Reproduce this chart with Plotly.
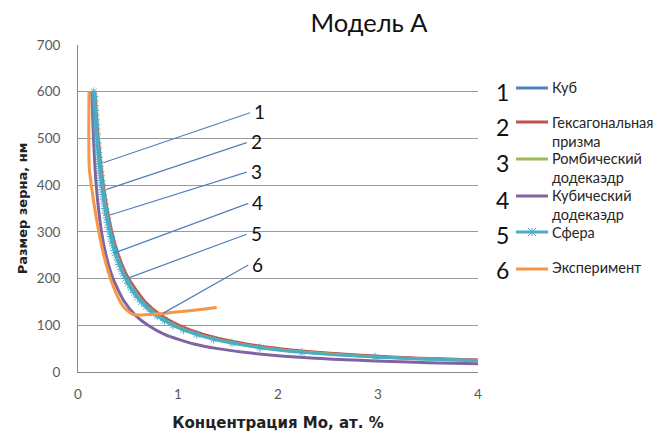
import plotly.graph_objects as go

# ---- data ----
cube_x = [0.163, 0.196, 0.245, 0.327, 0.392, 0.49, 0.653, 0.817, 0.98, 1.225, 1.633, 1.96, 2.45, 3.267, 4.9]
cube_y = [600, 500, 400, 300, 250, 200, 150, 120, 100, 80, 60, 50, 40, 30, 20]

hex_x = [0.168, 0.202, 0.253, 0.337, 0.404, 0.505, 0.673, 0.842, 1.01, 1.263, 1.683, 2.02, 2.525, 3.367, 5.05]
hex_y = [600, 500, 400, 300, 250, 200, 150, 120, 100, 80, 60, 50, 40, 30, 20]

rhomb_x = [0.161, 0.193, 0.241, 0.322, 0.386, 0.483, 0.643, 0.804, 0.965, 1.206, 1.608, 1.93, 2.413, 3.217, 4.825]
rhomb_y = [600, 500, 400, 300, 250, 200, 150, 120, 100, 80, 60, 50, 40, 30, 20]

cubdod_x = [0.137, 0.155, 0.182, 0.235, 0.28, 0.35, 0.465, 0.58, 0.70, 0.87, 1.16, 1.4, 1.75, 2.33, 3.5, 4.67]
cubdod_y = [600, 500, 400, 300, 250, 200, 150, 120, 100, 80, 60, 50, 40, 30, 20, 15]

sphere_x = [0.158, 0.161, 0.164, 0.167, 0.170, 0.173, 0.176, 0.179, 0.183, 0.186,
            0.190, 0.194, 0.198, 0.202, 0.207, 0.211, 0.216, 0.221, 0.226, 0.232,
            0.238, 0.244, 0.250, 0.257, 0.264, 0.271, 0.279, 0.288, 0.297, 0.306,
            0.317, 0.328, 0.339, 0.352, 0.365, 0.380, 0.396, 0.413, 0.432, 0.452,
            0.475, 0.500, 0.528, 0.559, 0.594, 0.633, 0.679, 0.731, 0.792, 0.864,
            0.950, 1.056, 1.188, 1.357, 1.54, 1.82, 2.24, 2.97, 4.32]
sphere_y = [600, 590, 580, 570, 560, 550, 540, 530, 520, 510,
            500, 490, 480, 470, 460, 450, 440, 430, 420, 410,
            400, 390, 380, 370, 360, 350, 340, 330, 320, 310,
            300, 290, 280, 270, 260, 250, 240, 230, 220, 210,
            200, 190, 180, 170, 160, 150, 140, 130, 120, 110,
            100, 90, 80, 70, 62, 52, 42, 32, 22]

exp_x = [0.11, 0.113, 0.15, 0.187, 0.253, 0.353, 0.453, 0.553, 0.787, 1.387]
exp_y = [600, 436, 375, 325, 254, 183, 140, 123, 124, 138]

# legend text lines per series
legend_lines = [["Куб"], ["Гексагональная", "призма"], ["Ромбический", "додекаэдр"],
                ["Кубический", "додекаэдр"], ["Сфера"], ["Эксперимент"]]
colors = ["#4F81BD", "#C0504D", "#9BBB59", "#8064A2", "#4BACC6", "#F79646"]
numbers = ["1", "2", "3", "4", "5", "6"]

# leader lines (annotation pointers): start on curve -> end near label
lead_x0 = [0.253, 0.287, 0.32, 0.353, 0.487, 0.853]
lead_y0 = [448, 391, 336, 254, 200, 126]
lead_x1 = [1.72, 1.687, 1.687, 1.703, 1.687, 1.703]
lead_y1 = [555, 491, 428, 361, 295, 229]

x_ticks = [0, 1, 2, 3, 4]
y_ticks = [0, 100, 200, 300, 400, 500, 600, 700]

FONT = "Lato, 'Open Sans', sans-serif"
TITLE_FONT = "'DejaVu Sans', sans-serif"

# layout geometry (pixels); page body adds an 8px offset
OFF = 8
W, H = 664 - OFF, 432 - OFF
L, R, T, B = 78 - OFF, 186, 45 - OFF, 60
PW, PH = W - L - R, H - T - B


def px_x(p):  # screen pixel of reference -> paper x
    return (p - OFF - L) / PW


def px_y(p):  # screen pixel of reference -> paper y
    return (H - B - (p - OFF)) / PH


fig = go.Figure()
series = [(cube_x, cube_y), (hex_x, hex_y), (rhomb_x, rhomb_y),
          (cubdod_x, cubdod_y), (sphere_x, sphere_y), (exp_x, exp_y)]
for i, (xs, ys) in enumerate(series):
    name = " ".join(legend_lines[i])
    if i == 4:
        fig.add_trace(go.Scatter(
            x=xs, y=ys, name=name, mode="lines+markers",
            line=dict(color=colors[i], width=3, shape="spline", smoothing=0.6),
            marker=dict(symbol="asterisk-open", size=7, color=colors[i],
                        line=dict(color=colors[i], width=1)),
            showlegend=False))
    else:
        fig.add_trace(go.Scatter(
            x=xs, y=ys, name=name, mode="lines",
            line=dict(color=colors[i], width=3, shape="spline", smoothing=0.6),
            showlegend=False))

for i in range(6):
    fig.add_shape(type="line", xref="x", yref="y",
                  x0=lead_x0[i], y0=lead_y0[i], x1=lead_x1[i], y1=lead_y1[i],
                  line=dict(color="#4F81BD", width=1.2))
    fig.add_annotation(x=lead_x1[i], y=lead_y1[i], xref="x", yref="y",
                       text=numbers[i], showarrow=False, xanchor="left", yanchor="middle",
                       xshift=2, yshift=1,
                       font=dict(family=FONT, size=19, color="#111111"))

# manual legend (positions in reference screen px)
leg_num_x = 502
leg_num_y = [92, 127, 163, 200, 235, 270]
leg_sym_x0, leg_sym_x1 = 516, 548
leg_sym_y = [88, 122, 159, 196, 232, 269]
leg_text_x = 550
leg_text_y = [[87], [122.5, 141], [158.5, 177], [195.5, 214.5], [232], [267]]

for i in range(6):
    fig.add_annotation(x=px_x(leg_num_x), y=px_y(leg_num_y[i]), xref="paper", yref="paper",
                       text=numbers[i], showarrow=False, xanchor="center", yanchor="middle",
                       font=dict(family=FONT, size=23, color="#111111"))
    fig.add_shape(type="line", xref="paper", yref="paper",
                  x0=px_x(leg_sym_x0), x1=px_x(leg_sym_x1),
                  y0=px_y(leg_sym_y[i]), y1=px_y(leg_sym_y[i]),
                  line=dict(color=colors[i], width=3))
    for j, txt in enumerate(legend_lines[i]):
        fig.add_annotation(x=px_x(leg_text_x), y=px_y(leg_text_y[i][j]),
                           xref="paper", yref="paper", text=txt, showarrow=False,
                           xanchor="left", yanchor="middle",
                           font=dict(family=FONT, size=14.5, color="#262626"))

# star marker on the Сфера legend sample
cx, cy, s = (leg_sym_x0 + leg_sym_x1) / 2, leg_sym_y[4], 4
for dx, dy in [(0, s), (s, s), (s, -s)]:
    fig.add_shape(type="line", xref="paper", yref="paper",
                  x0=px_x(cx - dx), x1=px_x(cx + dx),
                  y0=px_y(cy - dy), y1=px_y(cy + dy),
                  line=dict(color=colors[4], width=1))

fig.update_layout(
    width=W, height=H,
    margin=dict(l=L, r=R, t=T, b=B),
    paper_bgcolor="white", plot_bgcolor="white",
    font=dict(family=FONT, size=13, color="#404040"),
    title=dict(text="Модель А", x=(369 - OFF) / W, xanchor="center", y=0.965, yanchor="middle",
               font=dict(family=FONT, size=25.5, color="#111111")),
    showlegend=False,
)
fig.update_xaxes(range=[0, 4], tickvals=x_ticks, showgrid=False,
                 showline=True, linecolor="#868686", linewidth=1,
                 ticks="outside", ticklen=10, tickcolor="rgba(0,0,0,0)",
                 tickfont=dict(family=FONT, size=13.5, color="#595959"),
                 title=dict(text="<b>Концентрация Mo, ат. %</b>",
                            font=dict(family=TITLE_FONT, size=15, color="#222222"),
                            standoff=16),
                 automargin=False, zeroline=False)
fig.update_yaxes(range=[0, 700], tickvals=y_ticks, showgrid=True,
                 gridcolor="#9A9A9A", gridwidth=1,
                 showline=True, linecolor="#868686", linewidth=1,
                 ticks="", ticklabelstandoff=14,
                 tickfont=dict(family=FONT, size=13.5, color="#595959"),
                 title=dict(text="<b>Размер зерна, нм</b>",
                            font=dict(family=TITLE_FONT, size=13, color="#222222"),
                            standoff=6),
                 automargin=False, zeroline=False)

fig.write_html("out.html")
